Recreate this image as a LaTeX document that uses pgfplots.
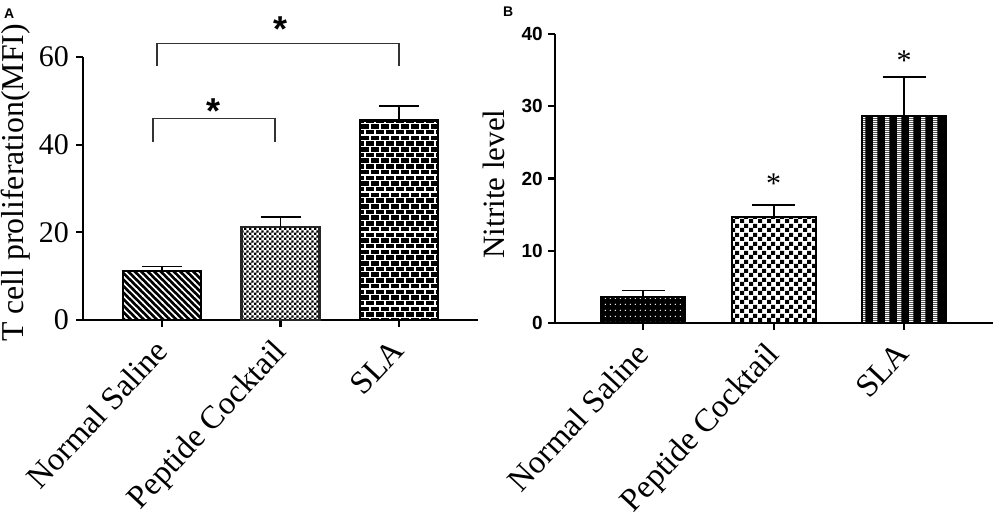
\documentclass[border=0pt]{standalone}
\usepackage{fontspec}
\setmainfont{Liberation Serif}
\newfontfamily\arial{Liberation Sans}
\usepackage{pgfplots}
\pgfplotsset{compat=1.18}
\usetikzlibrary{patterns}

\pgfdeclarepatternformonly{nwl}{\pgfqpoint{-1pt}{-1pt}}{\pgfqpoint{7.5pt}{7.5pt}}{\pgfqpoint{6.5pt}{6.5pt}}{%
  \pgfsetlinewidth{1.6pt}%
  \pgfpathmoveto{\pgfqpoint{-1pt}{7.5pt}}%
  \pgfpathlineto{\pgfqpoint{7.5pt}{-1pt}}%
  \pgfusepath{stroke}}
\pgfdeclarepatternformonly{chkA}{\pgfpointorigin}{\pgfqpoint{5.2pt}{5.2pt}}{\pgfqpoint{5.2pt}{5.2pt}}{%
  \pgfpathrectangle{\pgfpointorigin}{\pgfqpoint{2.6pt}{2.6pt}}%
  \pgfpathrectangle{\pgfqpoint{2.6pt}{2.6pt}}{\pgfqpoint{2.6pt}{2.6pt}}%
  \pgfusepath{fill}}
\pgfdeclarepatternformonly{brk}{\pgfqpoint{-1pt}{-1pt}}{\pgfqpoint{11pt}{12.4pt}}{\pgfqpoint{10pt}{11.4pt}}{%
  \pgfsetlinewidth{1.2pt}%
  \pgfpathmoveto{\pgfqpoint{-1pt}{0pt}}\pgfpathlineto{\pgfqpoint{11pt}{0pt}}%
  \pgfpathmoveto{\pgfqpoint{-1pt}{5.7pt}}\pgfpathlineto{\pgfqpoint{11pt}{5.7pt}}%
  \pgfpathmoveto{\pgfqpoint{0pt}{0pt}}\pgfpathlineto{\pgfqpoint{0pt}{5.7pt}}%
  \pgfpathmoveto{\pgfqpoint{5pt}{5.7pt}}\pgfpathlineto{\pgfqpoint{5pt}{11.4pt}}%
  \pgfusepath{stroke}}
\pgfdeclarepatternformonly{dtsB}{\pgfpointorigin}{\pgfqpoint{5.3pt}{6pt}}{\pgfqpoint{5.3pt}{6pt}}{%
  \pgfpathcircle{\pgfqpoint{2.65pt}{3pt}}{0.8pt}\pgfusepath{fill}}
\pgfdeclarepatternformonly{chkB}{\pgfpointorigin}{\pgfqpoint{8.5pt}{8.5pt}}{\pgfqpoint{8.5pt}{8.5pt}}{%
  \pgfpathrectangle{\pgfpointorigin}{\pgfqpoint{4.25pt}{4.25pt}}%
  \pgfpathrectangle{\pgfqpoint{4.25pt}{4.25pt}}{\pgfqpoint{4.25pt}{4.25pt}}%
  \pgfusepath{fill}}
\pgfdeclarepatternformonly{vst}{\pgfpointorigin}{\pgfqpoint{11.8pt}{2pt}}{\pgfqpoint{11.8pt}{2pt}}{%
  \pgfpathrectangle{\pgfpointorigin}{\pgfqpoint{4.3pt}{2pt}}%
  \pgfusepath{fill}}

\pgfplotsset{
  panel/.style={
    scale only axis, anchor=south west, clip=false,
    axis x line=bottom, axis y line=left,
    axis line style={-, line width=2.2pt, black},
    xtick={0,1,2}, xticklabels={Normal Saline,Peptide Cocktail,SLA},
    tick align=outside, major tick length=7pt,
    tick style={line width=2.2pt, black},
    /pgf/number format/assume math mode=true,
    xticklabel style={font=\fontsize{32.5}{32.5}\selectfont, xshift=-9pt, yshift=-10pt,
      rotate=47, anchor=north east, inner sep=0pt},
    ybar, bar shift=0pt,
    error bars/y dir=plus, error bars/y explicit,
    error bars/error bar style={line width=1.8pt, black},
  },
}

\begin{document}
\begin{tikzpicture}[x=1pt,y=1pt]
\useasboundingbox (0,0) rectangle (995,-517);

\begin{axis}[panel,
  at={(83pt,-320pt)}, width=395pt, height=263pt,
  xmin=-0.667, xmax=2.667, ymin=0, ymax=60,
  ytick={0,20,40,60},
  yticklabel style={font=\fontsize{30}{30}\selectfont, inner sep=0pt, xshift=-7pt},
  ylabel={T cell proliferation(MFI)},
  ylabel style={font=\fontsize{31.8}{31.8}\selectfont, inner sep=0pt,
    at={(axis description cs:-0.1337,0.521)}, anchor=south},
  bar width=78pt,
  error bars/error mark options={rotate=90, line width=1.8pt, mark size=20pt, black},
]
\addplot[bar shift=0pt, draw=black, line width=2.2pt, fill=black,
  postaction={pattern=nwl, pattern color=white}]
  coordinates {(0,11.2) +- (0,1.0)};
\addplot[bar shift=0pt, draw=black!85, line width=2.2pt, fill=white,
  postaction={pattern=chkA, pattern color=black}]
  coordinates {(1,21.3) +- (0,2.2)};
\addplot[bar shift=0pt, draw=black, line width=2.2pt, fill=black,
  postaction={pattern=brk, pattern color=white}]
  coordinates {(2,45.5) +- (0,3.4)};
\draw[line width=1.3pt, black!80] (axis cs:-0.076,40.6) -- (axis cs:-0.076,45.9) -- (axis cs:0.953,45.9) -- (axis cs:0.953,40.6);
\draw[line width=1.3pt, black!80] (axis cs:-0.043,57.95) -- (axis cs:-0.043,63.1) -- (axis cs:2.0,63.1) -- (axis cs:2.0,57.95);
\node[font=\arial\bfseries\fontsize{36}{36}\selectfont, anchor=base, inner sep=0pt, yshift=-20pt] at (axis cs:0.438,49.5) {*};
\node[font=\arial\bfseries\fontsize{36}{36}\selectfont, anchor=base, inner sep=0pt, yshift=-16.5pt] at (axis cs:1.0,67.4) {*};
\end{axis}

\begin{axis}[panel,
  at={(555pt,-323pt)}, width=438pt, height=289pt,
  xmin=-0.674, xmax=2.68, ymin=0, ymax=40,
  ytick={0,10,20,30,40},
  yticklabel style={font=\arial\bfseries\fontsize{19}{19}\selectfont, inner sep=0pt, xshift=-5pt},
  ylabel={Nitrite level},
  ylabel style={font=\fontsize{31}{31}\selectfont, inner sep=0pt,
    at={(axis description cs:-0.114,0.481)}, anchor=south},
  bar width=84pt,
  error bars/error mark options={rotate=90, line width=1.8pt, mark size=21.5pt, black},
]
\addplot[bar shift=0pt, draw=black, line width=2.2pt, fill=black,
  postaction={pattern=dtsB, pattern color=white}]
  coordinates {(0,3.64) +- (0,0.85)};
\addplot[bar shift=0pt, draw=black, line width=2.2pt, fill=white,
  postaction={pattern=chkB, pattern color=black}]
  coordinates {(1,14.7) +- (0,1.6)};
\addplot[bar shift=0pt, draw=black, line width=2.2pt, fill=black,
  postaction={pattern=vst, pattern color=white}]
  coordinates {(2,28.6) +- (0,5.5)};
\node[font=\fontsize{30}{30}\selectfont, anchor=base, inner sep=0pt, yshift=-14pt] at (axis cs:1.0,19.9) {*};
\node[font=\fontsize{30}{30}\selectfont, anchor=base, inner sep=0pt, yshift=-14pt] at (axis cs:2.0,36.95) {*};
\end{axis}

\node[anchor=base west, inner sep=0pt, font=\arial\bfseries\fontsize{14}{14}\selectfont] at (4,-18) {A};
\node[anchor=base west, inner sep=0pt, font=\arial\bfseries\fontsize{14}{14}\selectfont] at (503,-16) {B};
\end{tikzpicture}
\end{document}
